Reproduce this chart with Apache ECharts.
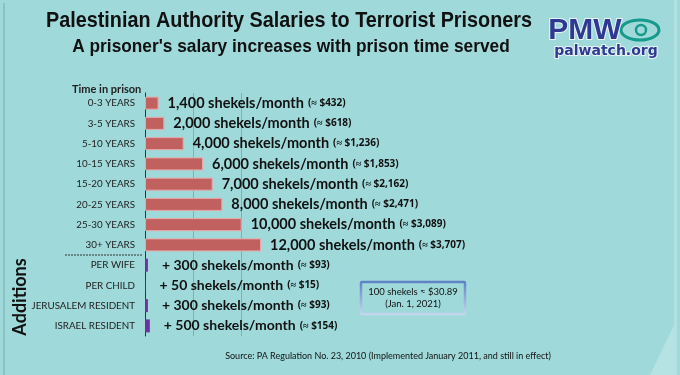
<!DOCTYPE html>
<html>
<head>
<meta charset="utf-8">
<script src="https://cdn.jsdelivr.net/npm/echarts@6/dist/echarts.min.js"></script>
<style>
  html, body { margin: 0; padding: 0; background: #9fd9da; }
  #main { width: 680px; height: 375px; }
</style>
</head>
<body>
<div id="main"></div>
<script>
	// categories and values
	var categories = ['0-3 YEARS', '3-5 YEARS', '5-10 YEARS', '10-15 YEARS', '15-20 YEARS', '20-25 YEARS', '25-30 YEARS', '30+ YEARS',
		'PER WIFE', 'PER CHILD', 'JERUSALEM RESIDENT', 'ISRAEL RESIDENT'];
	var salaries = [1400, 2000, 4000, 6000, 7000, 8000, 10000, 12000];
	var salaryUsd = [432, 618, 1236, 1853, 2162, 2471, 3089, 3707];
	var additions = [300, 50, 300, 500];
	var additionUsd = [93, 15, 93, 154];
	var xTicks = [0, 5000, 10000, 15000];

	var fmt = function (n) { return n.toLocaleString('en-US'); };

	var data = [];
	salaries.forEach(function (v, i) {
		data.push({
			value: v,
			itemStyle: { color: '#c0605f', borderColor: '#eaa6a4', borderWidth: 1 },
			label: {
				formatter: '{a|' + fmt(v) + ' shekels/month}{b|(≈ $' + fmt(salaryUsd[i]) + ')}',
				distance: 9
			}
		});
	});
	additions.forEach(function (v, i) {
		data.push({
			value: v,
			itemStyle: { color: '#7030a0' },
			label: {
				formatter: '{c|+ ' + fmt(v) + ' shekels/month}{b|(≈ $' + fmt(additionUsd[i]) + ')}',
				distance: 14
			}
		});
	});

	var myChart = echarts.init(document.getElementById('main'));
	var option = {
		backgroundColor: '#9fd9da',
		textStyle: { fontFamily: 'Lato' },
		title: [
			{
				text: 'Time in prison',
				left: 67, top: 79,
				textStyle: { fontFamily: 'Lato', fontWeight: 'bold', fontSize: 11, color: '#222' }
			}
		],
		grid: { left: 145, top: 93, width: 145, height: 243 },
		xAxis: {
			type: 'value',
			min: 0, max: xTicks[xTicks.length - 1], interval: 5000,
			axisLine: { show: false },
			axisTick: { show: false },
			axisLabel: { show: false },
			splitLine: { lineStyle: { color: ['rgba(0,0,0,0)', '#7fb0b2', '#7fb0b2', 'rgba(0,0,0,0)'], width: 1 } }
		},
		yAxis: {
			type: 'category',
			inverse: true,
			data: categories,
			axisLine: { lineStyle: { color: '#333', width: 1 } },
			axisTick: { show: false },
			axisLabel: { color: '#222', fontSize: 9.8, margin: 10, fontFamily: 'Lato' }
		},
		series: [
			{
				type: 'bar',
				barWidth: 13,
				data: data,
				label: {
					show: true,
					position: 'right',
					rich: {
						a: { fontFamily: 'Lato', fontWeight: 'bold', fontSize: 14.5, color: '#111', padding: [0, 4, 0, 0] },
						b: { fontFamily: 'Noto Sans', fontWeight: 'bold', fontSize: 10, color: '#111' },
						c: { fontFamily: 'Lato', fontWeight: 'bold', fontSize: 14, color: '#111', padding: [0, 4, 0, 0] }
					}
				}
			}
		],
		graphic: [
			// frame edges
			{ type: 'rect', shape: { x: 3, y: 3, width: 2, height: 372 }, style: { fill: '#8ac3c4' } },
			{ type: 'rect', shape: { x: 674, y: 0, width: 3, height: 375 }, style: { fill: '#b3e0e0' } },
			{ type: 'polygon', shape: { points: [[650, 375], [674, 325], [674, 375]] }, style: { fill: '#b5e2e2' } },
			// headings
			{
				type: 'text', x: 289, y: 21, scaleX: 0.9,
				style: { text: 'Palestinian Authority Salaries to Terrorist Prisoners', fontFamily: 'Liberation Sans', fontWeight: 'bold', fontSize: 22, fill: '#111', align: 'center', verticalAlign: 'middle' }
			},
			{
				type: 'text', x: 291, y: 47, scaleX: 0.91,
				style: { text: "A prisoner's salary increases with prison time served", fontFamily: 'Liberation Sans', fontWeight: 'bold', fontSize: 19, fill: '#111', align: 'center', verticalAlign: 'middle' }
			},
			// separator
			{ type: 'line', shape: { x1: 65, y1: 255, x2: 143, y2: 255 }, style: { stroke: '#333', lineWidth: 1, lineDash: [2, 1] } },
			{
				type: 'text', x: 20, y: 297, rotation: Math.PI / 2,
				style: { text: 'Additions', fontFamily: 'Lato', fontWeight: 'bold', fontSize: 18, fill: '#111', align: 'center', verticalAlign: 'middle' }
			},
			// exchange box
			{
				type: 'rect', shape: { x: 361, y: 282, width: 104, height: 32, r: 1 },
				style: {
					fill: 'rgba(0,0,0,0)', lineWidth: 2.5,
					stroke: new echarts.graphic.LinearGradient(0, 0, 0, 1, [{ offset: 0, color: '#5c80c6' }, { offset: 1, color: '#c9d8ef' }])
				}
			},
			{
				type: 'text', x: 413, y: 298,
				style: { text: '100 shekels ≈ $30.89\n(Jan. 1, 2021)', fontFamily: 'Lato', fontSize: 9.5, lineHeight: 12, fill: '#111', align: 'center', verticalAlign: 'middle' }
			},
			{
				type: 'text', x: 388, y: 356,
				style: { text: 'Source: PA Regulation No. 23, 2010 (Implemented January 2011, and still in effect)', fontFamily: 'Lato', fontSize: 9, fill: '#111', align: 'center', verticalAlign: 'middle' }
			},
			// logo
			{ type: 'ellipse', shape: { cx: 640, cy: 30, rx: 19, ry: 10 }, style: { fill: 'rgba(0,0,0,0)', stroke: '#159a8c', lineWidth: 3 } },
			{ type: 'circle', shape: { cx: 641, cy: 30, r: 5 }, style: { fill: 'rgba(0,0,0,0)', stroke: '#159a8c', lineWidth: 2.5 } },
			{
				type: 'text', x: 585, y: 31,
				style: { text: 'PMW', fontFamily: 'Liberation Sans', fontWeight: 'bold', fontSize: 30, fill: '#2e3a90', align: 'center', verticalAlign: 'middle', stroke: '#e8f4f8', lineWidth: 2 }
			},
			{
				type: 'text', x: 606, y: 51,
				style: { text: 'palwatch.org', fontFamily: 'DejaVu Sans', fontWeight: 'bold', fontSize: 14, fill: '#2e3a90', align: 'center', verticalAlign: 'middle', stroke: '#e8f4f8', lineWidth: 2 }
			}
		]
	};
	myChart.setOption(option);
</script>
</body>
</html>
